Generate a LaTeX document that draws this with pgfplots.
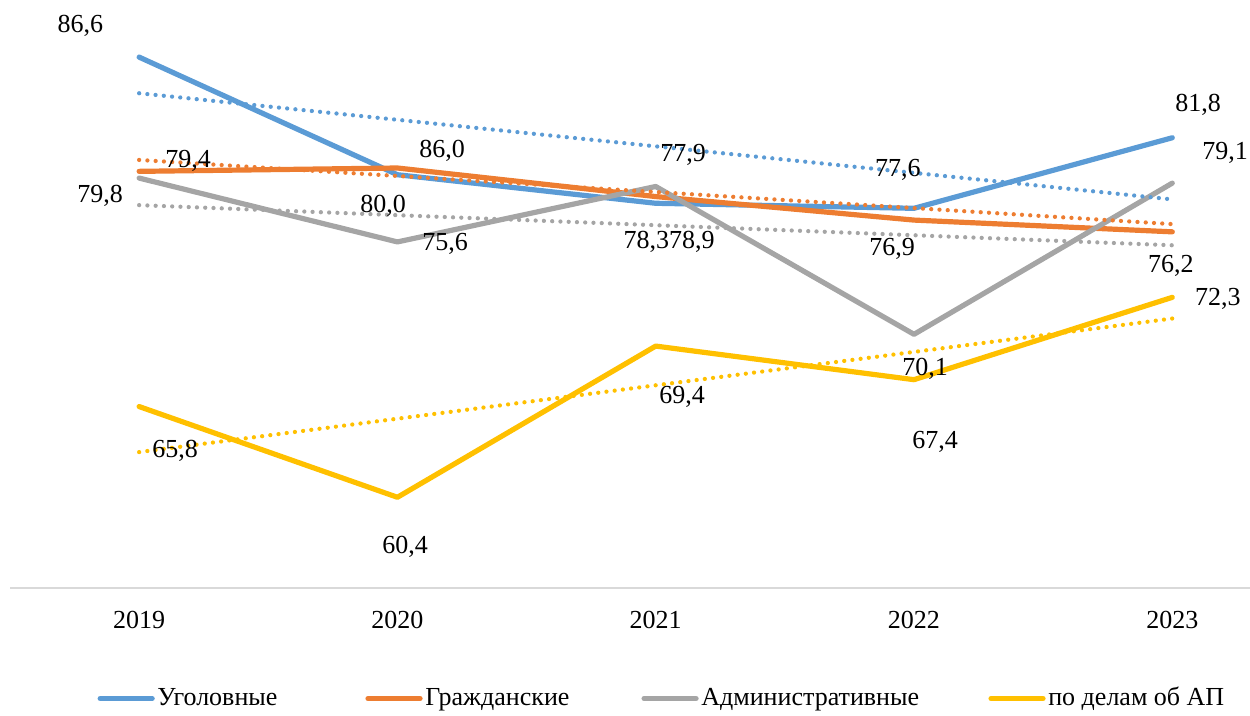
\documentclass[border=0pt]{standalone}
\usepackage{pgfplots}
\pgfplotsset{compat=1.18}
\usepackage{pgfplotstable}
\usepackage{fontspec}
\setmainfont{Liberation Serif}
\definecolor{cblue}{HTML}{5B9BD5}
\definecolor{corange}{HTML}{ED7D31}
\definecolor{cgray}{HTML}{A5A5A5}
\definecolor{cyellow}{HTML}{FFC000}
\definecolor{caxis}{HTML}{D9D9D9}

\pgfplotstableread{
x ug gr adm ap
0 86.6 79.8 79.4 65.8
1 79.6 80.0 75.6 60.4
2 77.9 78.3 78.9 69.4
3 77.6 76.9 70.1 67.4
4 81.8 76.2 79.1 72.3
}\data

\pgfplotstableread{
x ug gr adm ap
0 84.45 80.48 77.79 63.09
4 78.13 76.66 75.40 71.04
}\trend

\newcommand{\lblfont}{\fontsize{19.5}{23}\selectfont}
\tikzset{lbl/.style={font=\lblfont, inner sep=0pt, anchor=center, text=black}}

\begin{document}
\lblfont
\begin{tikzpicture}
\useasboundingbox (0,0) rectangle (937.5pt,536.25pt);
\begin{axis}[
  at={(7.5pt,95.25pt)}, anchor=south west,
  scale only axis, width=930pt, height=441pt,
  xmin=-0.5, xmax=4.301, ymin=55, ymax=90,
  clip=false,
  axis x line=bottom, axis y line=none,
  axis line style={-, draw=caxis, line width=1.5pt},
  xtick={0,1,2,3,4},
  xticklabels={2019,2020,2021,2022,2023},
  major tick length=0pt,
  ytick=\empty,
  xticklabel style={anchor=base, yshift=-30pt, font=\lblfont},
  legend columns=4,
  legend cell align=left,
  legend style={at={(axis description cs:0.526,-0.188)}, anchor=center, draw=none, fill=none, font=\lblfont,
    /tikz/every odd column/.append style={column sep=0pt},
    /tikz/column 2/.append style={column sep=64pt},
    /tikz/column 4/.append style={column sep=52pt},
    /tikz/column 6/.append style={column sep=50pt}},
  legend image code/.code={\draw[line width=3.9pt, line cap=round] (0pt,0pt) -- (39pt,0pt);},
  every axis plot/.append style={line join=round, line cap=round}
]
\addplot[cblue, line width=3.9pt] table[x=x, y=ug] {\data};
\addlegendentry{Уголовные}
\addplot[corange, line width=3.9pt] table[x=x, y=gr] {\data};
\addlegendentry{Гражданские}
\addplot[cgray, line width=3.9pt] table[x=x, y=adm] {\data};
\addlegendentry{Административные}
\addplot[cyellow, line width=3.9pt] table[x=x, y=ap] {\data};
\addlegendentry{по делам об АП}

\addplot[forget plot, cblue, line width=3.2pt, dash pattern=on 0pt off 6.2pt] table[x=x, y=ug] {\trend};
\addplot[forget plot, corange, line width=3.2pt, dash pattern=on 0pt off 6.2pt] table[x=x, y=gr] {\trend};
\addplot[forget plot, cgray, line width=3.2pt, dash pattern=on 0pt off 6.2pt] table[x=x, y=adm] {\trend};
\addplot[forget plot, cyellow, line width=3.2pt, dash pattern=on 0pt off 6.2pt] table[x=x, y=ap] {\trend};

\node[lbl] at (axis cs:-0.228,88.45) {86,6};
\node[lbl] at (axis cs:0.190,80.40) {79,4};
\node[lbl] at (axis cs:-0.151,78.37) {79,8};
\node[lbl] at (axis cs:1.173,81.05) {86,0};
\node[lbl] at (axis cs:0.945,77.77) {80,0};
\node[lbl] at (axis cs:1.185,75.51) {75,6};
\node[lbl] at (axis cs:2.106,80.76) {77,9};
\node[lbl] at (axis cs:2.052,75.63) {78,378,9};
\node[lbl] at (axis cs:2.938,79.86) {77,6};
\node[lbl] at (axis cs:2.915,75.21) {76,9};
\node[lbl] at (axis cs:4.100,83.74) {81,8};
\node[lbl] at (axis cs:4.205,80.88) {79,1};
\node[lbl] at (axis cs:3.995,74.20) {76,2};
\node[lbl] at (axis cs:4.177,72.23) {72,3};
\node[lbl] at (axis cs:0.139,63.17) {65,8};
\node[lbl] at (axis cs:1.030,57.44) {60,4};
\node[lbl] at (axis cs:2.102,66.39) {69,4};
\node[lbl] at (axis cs:3.043,68.05) {70,1};
\node[lbl] at (axis cs:3.082,63.70) {67,4};
\end{axis}
\end{tikzpicture}
\end{document}
